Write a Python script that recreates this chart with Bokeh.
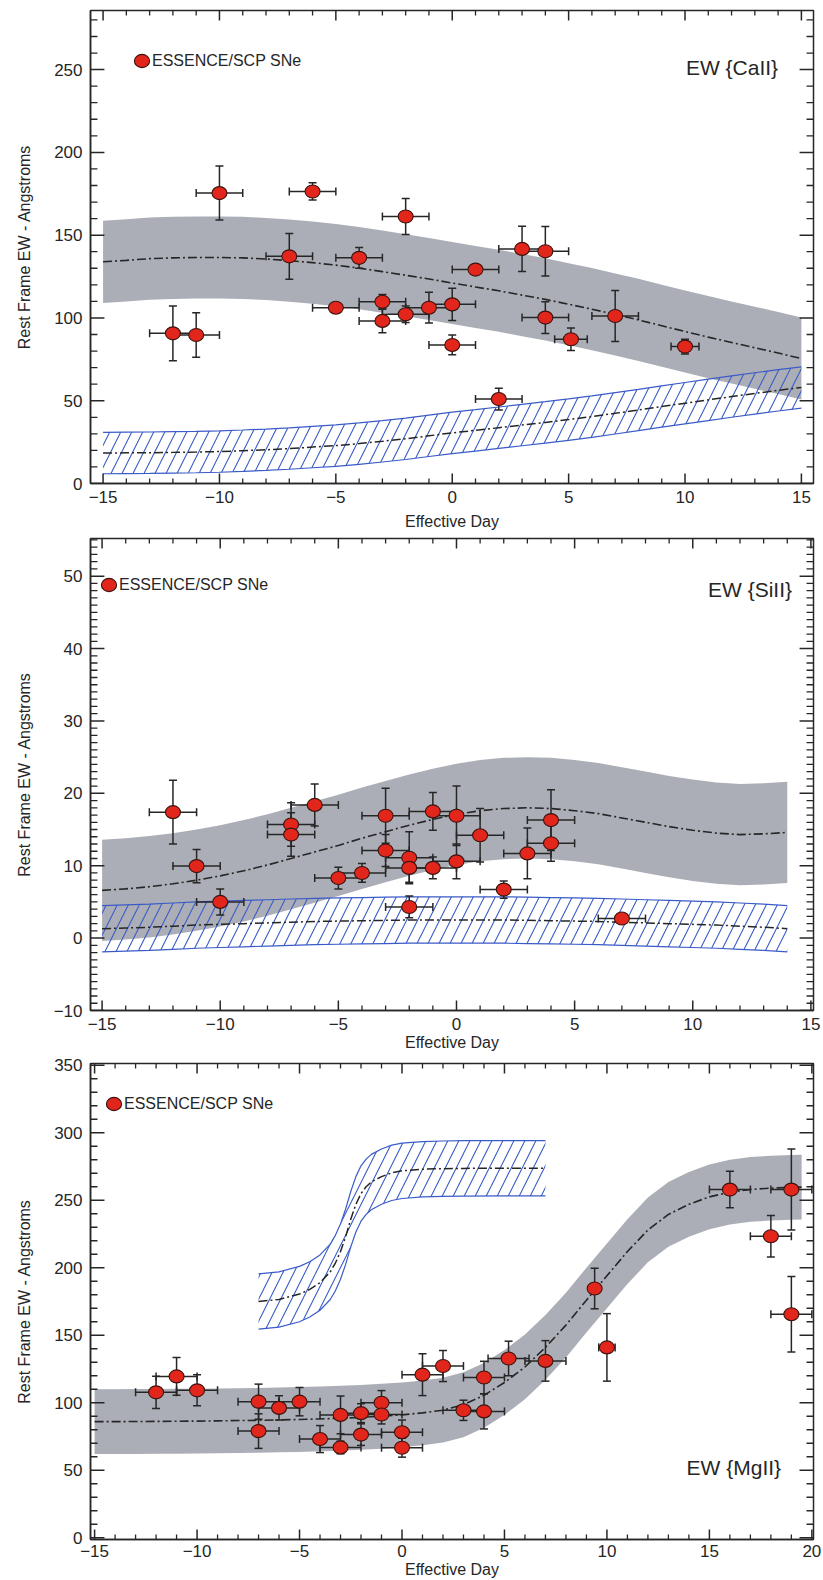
import math
from bokeh.plotting import figure
from bokeh.models import (Range1d, SingleIntervalTicker, ColumnDataSource,
                          Legend, LegendItem, Label)
from bokeh.layouts import column
from bokeh.embed import file_html
from bokeh.resources import INLINE

# ---------------- data: Ca II ----------------
ca_day = [-12, -11, -10, -7, -6, -5, -4, -3, -3, -2, -2, -1, 0, 0, 1, 2, 3, 4, 4, 5.1, 7, 10]
ca_ew = [90.7, 89.7, 175.4, 137.2, 176.4, 106.2, 136.3, 109.8, 98.2, 161.3, 102.2, 106.2,
         108.2, 83.7, 129.2, 51.0, 141.7, 140.3, 100.2, 87.1, 101.2, 82.7]
ca_ew_err = [16.5, 13.4, 16.3, 13.8, 5.2, 2.5, 6.3, 4.4, 7.2, 10.9, 5.0, 9.3, 9.7, 6.0,
             2.5, 6.6, 13.7, 14.9, 9.6, 6.8, 15.4, 4.5]
ca_day_err = [1, 1, 1, 1, 1, 1, 1, 1, 1, 1, 1, 1, 1, 1, 1, 1, 1, 1, 1, 0.7, 1, 0.6]
ca_model_day = [-15, -14, -13, -12, -11, -10, -9, -8, -7, -6, -5, -4, -3, -2, -1, 0,
                1, 2, 3, 4, 5, 6, 7, 8, 9, 10, 11, 12, 13, 14, 15]
ca_model_ew = [133.9, 134.8, 135.8, 136.3, 136.5, 136.5, 136.3, 135.6, 134.6, 133.4, 131.9,
               130.1, 128.0, 125.8, 123.5, 121.1, 118.7, 116.4, 113.8, 111.2, 108.3, 105.3,
               102.1, 98.8, 95.3, 91.8, 88.4, 85.2, 82.0, 78.8, 75.5]
ca_model_halfwidth = 24.8
ca_ref_day = ca_model_day
ca_ref_ew = [18.4, 18.5, 18.6, 18.8, 19.0, 19.3, 19.8, 20.4, 21.1, 22.0, 22.9, 24.1, 25.5,
             27.0, 28.8, 30.6, 32.1, 33.7, 35.3, 36.9, 38.6, 40.4, 42.4, 44.4, 46.5, 48.5,
             50.5, 52.5, 54.4, 56.3, 58.0]
ca_ref_halfwidth = 12.5
ca_x_major = [-15, -10, -5, 0, 5, 10, 15]
ca_y_major = [0, 50, 100, 150, 200, 250]

# ---------------- data: Si II ----------------
si_day = [-12, -11, -10, -7, -7, -6, -5, -4, -3, -3, -2, -2, -2, -1, -1, 0, 0, 1, 2, 3, 4, 4, 7]
si_ew = [17.4, 9.95, 5.0, 15.7, 14.3, 18.4, 8.3, 9.0, 16.9, 12.1, 11.1, 9.7, 4.3, 17.5, 9.7,
         16.9, 10.6, 14.2, 6.7, 11.7, 16.3, 13.1, 2.7]
si_ew_err = [4.4, 2.3, 1.8, 3.0, 3.0, 2.9, 1.5, 1.3, 3.8, 2.2, 3.6, 2.0, 1.5, 2.6, 1.5, 4.1,
             2.4, 3.7, 1.2, 3.5, 4.2, 2.5, 0.4]
si_day_err = [1] * 23
si_model_day = [-15, -14, -13, -12, -11, -10, -9, -8, -7, -6, -5, -4, -3, -2, -1, 0,
                1, 2, 3, 4, 5, 6, 7, 8, 9, 10, 11, 12, 13, 14]
si_model_ew = [6.6, 6.8, 7.1, 7.5, 8.0, 8.6, 9.3, 10.1, 11.0, 11.9, 12.8, 13.8, 14.7, 15.6,
               16.4, 17.1, 17.6, 17.9, 18.0, 17.9, 17.6, 17.2, 16.6, 16.0, 15.4, 14.9, 14.5,
               14.3, 14.4, 14.6]
si_model_halfwidth = 7.0
si_ref_day = si_model_day
si_ref_ew = [1.3, 1.4, 1.5, 1.65, 1.8, 1.9, 2.0, 2.1, 2.2, 2.3, 2.35, 2.4, 2.45, 2.5, 2.5,
             2.5, 2.5, 2.5, 2.45, 2.4, 2.35, 2.3, 2.2, 2.1, 2.0, 1.9, 1.8, 1.65, 1.5, 1.3]
si_ref_halfwidth = 3.2
si_x_major = [-15, -10, -5, 0, 5, 10, 15]
si_y_major = [-10, 0, 10, 20, 30, 40, 50]

# ---------------- data: Mg II ----------------
mg_day = [-12, -11, -10, -7, -7, -6, -5, -4, -3, -3, -2, -2, -1, -1, 0, 0, 1, 2, 3, 4, 4,
          5.2, 7, 9.4, 10, 16, 18, 19, 19]
mg_ew = [107.7, 119.5, 109.2, 100.8, 79.0, 96.2, 100.8, 73.1, 91.0, 66.9, 92.3, 76.4, 100.0,
         91.3, 78.2, 66.7, 120.8, 127.2, 94.4, 118.7, 93.6, 132.8, 131.0, 184.6, 141.0,
         257.9, 223.3, 257.9, 165.6]
mg_ew_err = [12, 14, 11.5, 13, 12.8, 9, 10.5, 10, 14, 4.7, 7, 8, 9, 7, 9, 7, 15.5, 11.5, 7.5,
             12, 13, 12.8, 15, 15, 25, 13.5, 15.4, 30, 28]
mg_day_err = [1] * 23 + [0, 0.4, 1, 1, 1, 1]
mg_model_day = [-15, -14, -13, -12, -11, -10, -9, -8, -7, -6, -5, -4, -3, -2, -1, 0, 1, 2,
                3, 4, 5, 6, 7, 8, 9, 10, 11, 12, 13, 14, 15, 16, 17, 18, 19, 19.5]
mg_model_ew = [86, 86, 86.1, 86.2, 86.3, 86.4, 86.6, 86.8, 87, 87.3, 87.6, 88, 88.5, 89.2,
               90, 91, 92.5, 94.5, 98.5, 105.5, 115, 126.5, 141, 157.5, 176, 194, 212, 228,
               239.5, 247, 252.5, 256, 258, 259, 259.5, 259.7]
mg_model_halfwidth = 24.0
mg_ref_day = [-7, -6, -5, -4.5, -4, -3.5, -3.25, -3, -2.75, -2.5, -2.25, -2, -1.75, -1.5,
              -1, -0.5, 0, 1, 2, 3, 5, 7]
mg_ref_ew = [175, 176.5, 180.5, 184, 189, 197, 203.5, 212, 223, 236, 247, 255, 260, 263.5,
             267.5, 270.3, 271.8, 273, 273.4, 273.6, 273.7, 273.7]
mg_ref_halfwidth = 20.5
mg_x_major = [-15, -10, -5, 0, 5, 10, 15, 20]
mg_y_major = [0, 50, 100, 150, 200, 250, 300, 350]

LEGEND_LABEL = "ESSENCE/SCP SNe"
X_LABEL = "Effective Day"
Y_LABEL = "Rest Frame EW - Angstroms"

FONT = "Liberation Sans"
INK = "#262626"
GREY = "#abaeb6"
BLUE = "#3a5bc8"
RED = "#e3261c"
DASHDOT = "9 3 2 3"
FIG_W = 823


def minor_between(major, n_minor, hi):
    """Minor tick positions between major ticks, continued up to the range end."""
    step = (major[1] - major[0]) / n_minor
    out = []
    for a in major:
        for k in range(1, n_minor):
            v = a + k * step
            if v < hi:
                out.append(v)
    return out


def style_axis(ax):
    ax.axis_line_color = INK
    ax.axis_line_width = 1.5
    ax.major_tick_in = 0
    ax.major_tick_out = 0
    ax.minor_tick_in = 0
    ax.minor_tick_out = 0
    ax.major_label_text_font = FONT
    ax.major_label_text_color = INK
    ax.major_label_text_font_size = "17px"
    ax.axis_label_text_font = FONT
    ax.axis_label_text_font_style = "normal"
    ax.axis_label_text_color = INK
    ax.axis_label_text_font_size = "16px"


def add_ticks(p, xr, yr, frame_w, frame_h, x_major, y_major, y_minor_n):
    """Inward ticks on all four frame sides (pixel lengths turned into data lengths)."""
    ux = (xr[1] - xr[0]) / frame_w
    uy = (yr[1] - yr[0]) / frame_h
    x_minor = minor_between(x_major, 5, xr[1])
    y_minor = minor_between(y_major, y_minor_n, yr[1])
    for xs, length, w in ((x_major, 10, 1.5), (x_minor, 5, 1.3)):
        n = len(xs)
        L = length * uy
        src_b = ColumnDataSource(dict(x=xs, y0=[yr[0]] * n, y1=[yr[0] + L] * n))
        src_t = ColumnDataSource(dict(x=xs, y0=[yr[1]] * n, y1=[yr[1] - L] * n))
        for s in (src_b, src_t):
            p.segment(x0="x", y0="y0", x1="x", y1="y1", source=s, line_color=INK, line_width=w)
    for ys, length, w in ((y_major, 14, 1.5), (y_minor, 7, 1.3)):
        n = len(ys)
        L = length * ux
        src_l = ColumnDataSource(dict(y=ys, x0=[xr[0]] * n, x1=[xr[0] + L] * n))
        src_r = ColumnDataSource(dict(y=ys, x0=[xr[1]] * n, x1=[xr[1] - L] * n))
        for s in (src_l, src_r):
            p.segment(x0="x0", y0="y", x1="x1", y1="y", source=s, line_color=INK, line_width=w)


def make_panel(day, ew, ew_err, day_err, model_day, model_ew, model_hw,
               ref_day, ref_ew, ref_hw, x_major, y_major, y_minor_n,
               title, title_xy, xr, yr, height, borders, legend_xy, x_standoffs):
    left, right, top, bottom = borders
    frame_w = FIG_W - left - right
    frame_h = height - top - bottom
    p = figure(width=FIG_W, height=height, x_range=Range1d(*xr), y_range=Range1d(*yr),
               output_backend="svg", toolbar_location=None,
               min_border_left=left, min_border_right=right,
               min_border_top=top, min_border_bottom=bottom)
    p.grid.visible = False
    p.outline_line_color = INK
    p.outline_line_width = 1.5
    p.background_fill_color = "white"
    p.border_fill_color = "white"

    p.xaxis.ticker = SingleIntervalTicker(interval=x_major[1] - x_major[0])
    p.yaxis.ticker = SingleIntervalTicker(interval=y_major[1] - y_major[0])
    style_axis(p.xaxis[0])
    style_axis(p.yaxis[0])
    p.xaxis.axis_label = X_LABEL
    p.yaxis.axis_label = Y_LABEL
    p.xaxis.major_label_standoff = x_standoffs[0]
    p.xaxis.axis_label_standoff = x_standoffs[1]
    p.yaxis.major_label_standoff = 8
    p.yaxis.axis_label_standoff = 18

    # model band (grey)
    model = ColumnDataSource(dict(
        x=model_day, y=model_ew,
        lo=[v - model_hw for v in model_ew], hi=[v + model_hw for v in model_ew]))
    p.varea(x="x", y1="lo", y2="hi", source=model, fill_color=GREY, fill_alpha=1.0)

    # reference band (blue hatched)
    ref = ColumnDataSource(dict(
        x=ref_day, y=ref_ew,
        lo=[v - ref_hw for v in ref_ew], hi=[v + ref_hw for v in ref_ew]))
    p.varea(x="x", y1="lo", y2="hi", source=ref, fill_alpha=0,
            hatch_pattern="/", hatch_color=BLUE, hatch_scale=22, hatch_weight=1.1)
    p.line(x="x", y="lo", source=ref, line_color=BLUE, line_width=1.2)
    p.line(x="x", y="hi", source=ref, line_color=BLUE, line_width=1.2)
    p.line(x="x", y="y", source=ref, line_color=INK, line_width=1.5, line_dash=DASHDOT)
    p.line(x="x", y="y", source=model, line_color=INK, line_width=1.6, line_dash=DASHDOT)

    # data points with error bars
    pts = ColumnDataSource(dict(
        x=day, y=ew,
        yl=[v - e for v, e in zip(ew, ew_err)], yu=[v + e for v, e in zip(ew, ew_err)],
        xl=[d - e for d, e in zip(day, day_err)], xu=[d + e for d, e in zip(day, day_err)]))
    p.segment(x0="x", y0="yl", x1="x", y1="yu", source=pts, line_color=INK, line_width=1.5)
    p.segment(x0="xl", y0="y", x1="xu", y1="y", source=pts, line_color=INK, line_width=1.5)
    for cx, cy, ang in (("x", "yl", 0), ("x", "yu", 0),
                        ("xl", "y", math.pi / 2), ("xu", "y", math.pi / 2)):
        p.scatter(x=cx, y=cy, source=pts, marker="dash", size=8, angle=ang,
                  line_color=INK, line_width=1.5)
    r = p.ellipse(x="x", y="y", width=15, height=13, width_units="screen",
                  height_units="screen", source=pts, fill_color=RED,
                  line_color="#3b1410", line_width=1.1)

    add_ticks(p, xr, yr, frame_w, frame_h, x_major, y_major, y_minor_n)

    leg = Legend(items=[LegendItem(label=LEGEND_LABEL, renderers=[r])],
                 location=legend_xy, border_line_color=None, background_fill_alpha=0,
                 padding=0, margin=0, spacing=0, glyph_width=19, glyph_height=19,
                 label_height=19, label_standoff=1, label_text_font=FONT,
                 label_text_font_size="16px", label_text_color=INK)
    p.add_layout(leg)

    p.add_layout(Label(x=title_xy[0], y=title_xy[1], text=title, text_align="right",
                       text_baseline="middle", text_font=FONT, text_font_size="21px",
                       text_color=INK))
    return p


p1 = make_panel(ca_day, ca_ew, ca_ew_err, ca_day_err, ca_model_day, ca_model_ew,
                ca_model_halfwidth, ca_ref_day, ca_ref_ew, ca_ref_halfwidth,
                ca_x_major, ca_y_major, 5,
                "EW {CaII}", (14.0, 251.0), (-15.54, 15.52), (0, 285.7),
                532, (86, 10, 10, 47), (42, 413), (7, 7))
p2 = make_panel(si_day, si_ew, si_ew_err, si_day_err, si_model_day, si_model_ew,
                si_model_halfwidth, si_ref_day, si_ref_ew, si_ref_halfwidth,
                si_x_major, si_y_major, 10,
                "EW {SiII}", (14.2, 48.2), (-15.49, 15.11), (-10, 55.2),
                523, (86, 10, 6, 45), (9, 416), (7, 1))
p3 = make_panel(mg_day, mg_ew, mg_ew_err, mg_day_err, mg_model_day, mg_model_ew,
                mg_model_halfwidth, mg_ref_day, mg_ref_ew, mg_ref_halfwidth,
                mg_x_major, mg_y_major, 5,
                "EW {MgII}", (18.5, 51.7), (-15.2, 20.08), (-1.3, 351.3),
                525, (90, 9, 8, 40), (14, 426), (5, 1))

layout = column(p1, p2, p3, spacing=0)
open("out.html", "w").write(file_html(layout, INLINE))
